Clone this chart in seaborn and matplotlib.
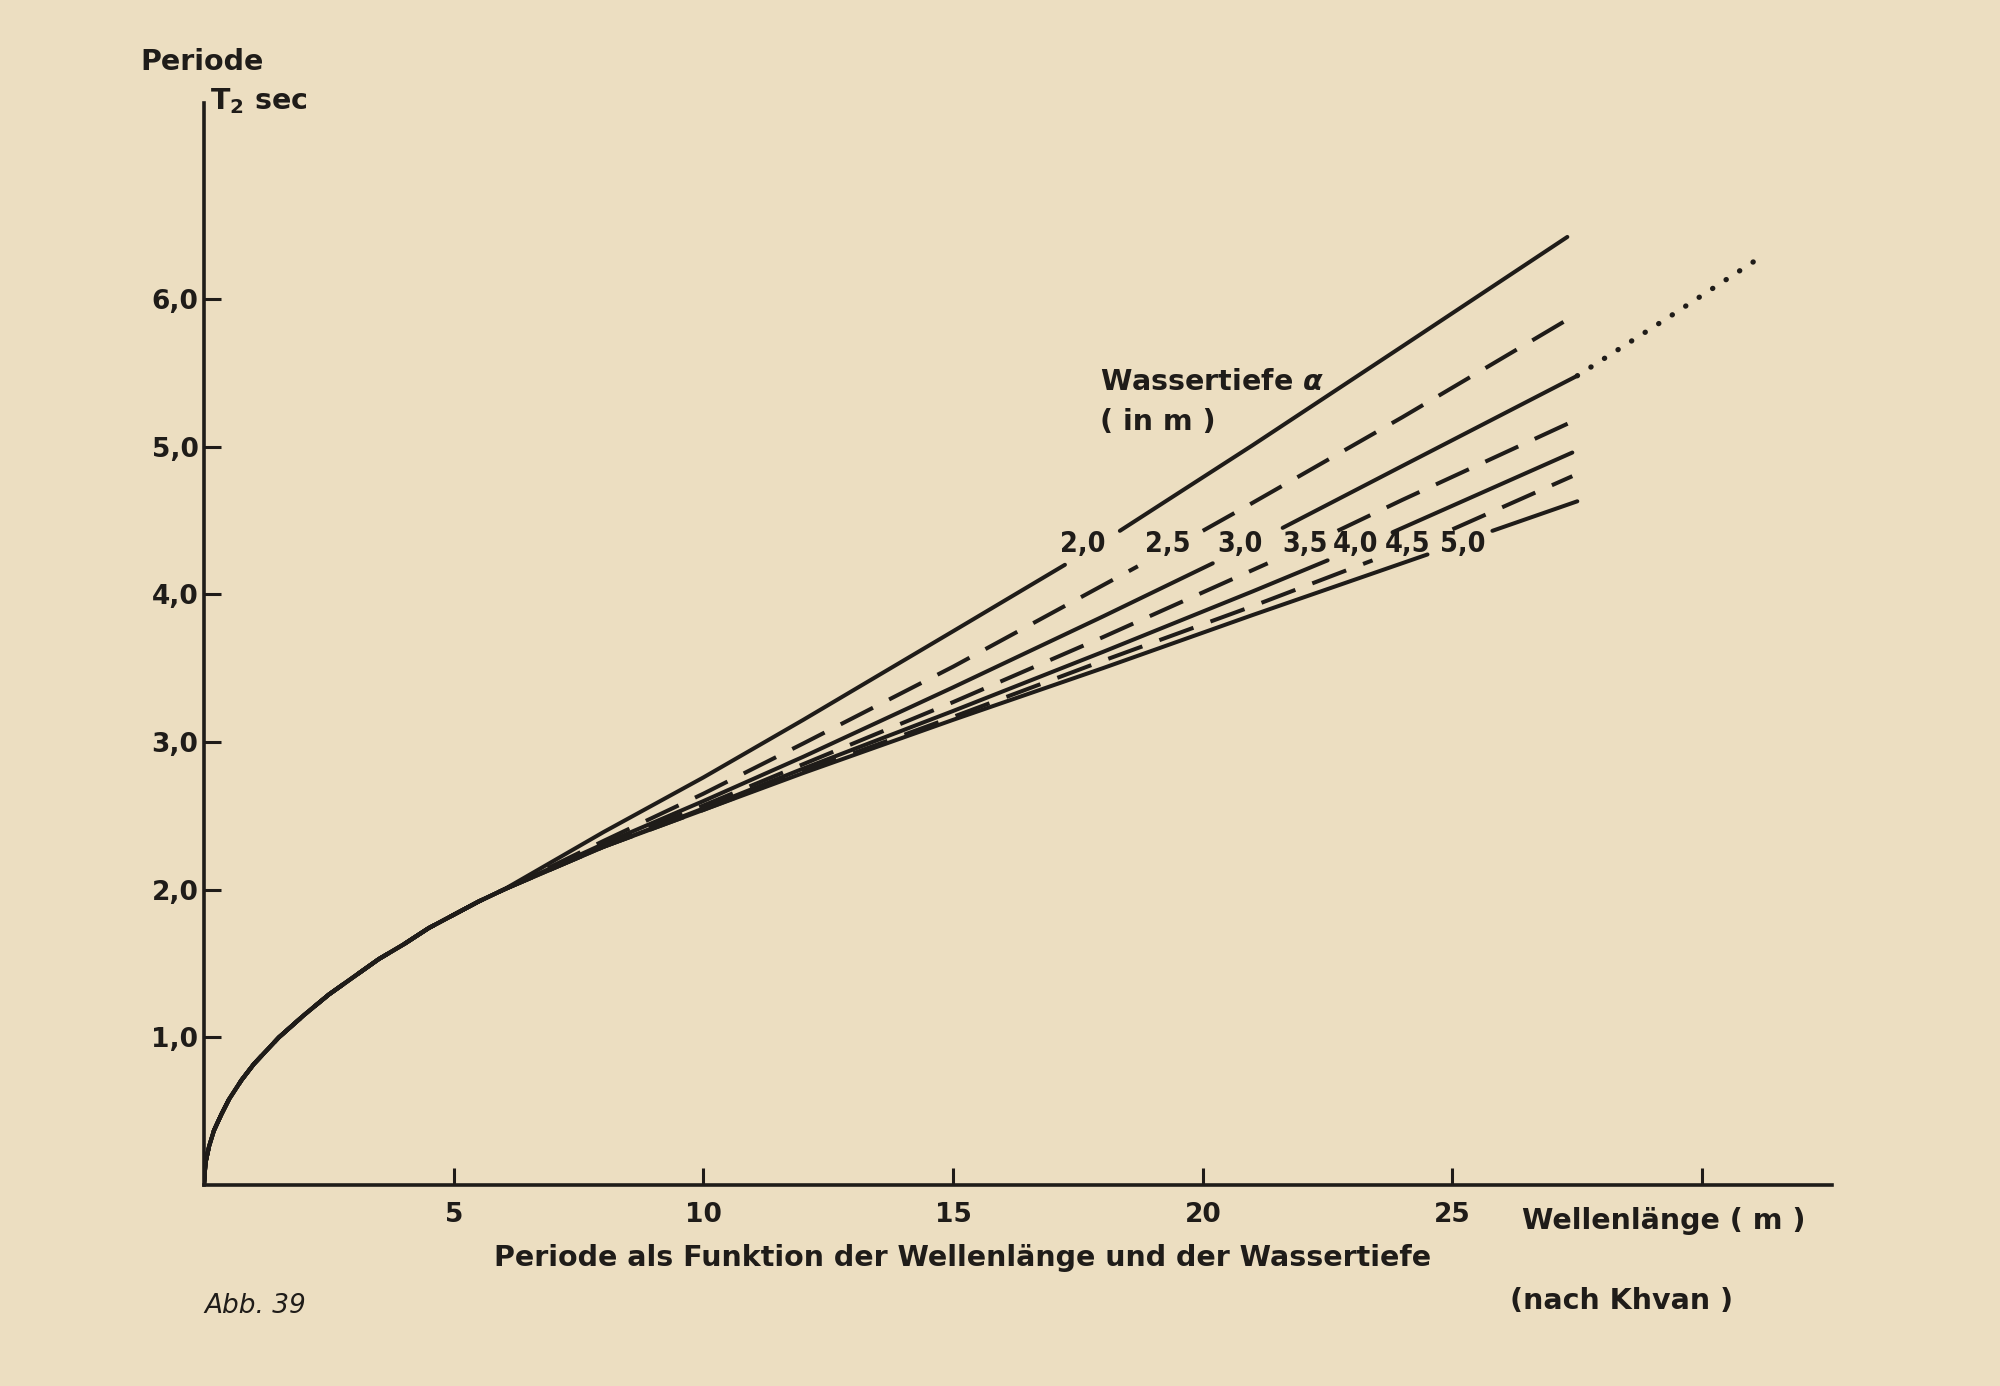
import pandas as pd
import numpy as np
import matplotlib
matplotlib.use("Agg")
import matplotlib.pyplot as plt
import seaborn as sns

# gemeinsamer Anfang aller Kurven (Wellenlänge m, Periode sec)
wl_gemeinsam = [0, 0.03, 0.1, 0.2, 0.35, 0.5, 0.75, 1.0, 1.5, 2.0, 2.5, 3.0,
                3.5, 4.0, 4.5, 5.0, 5.5, 6.0]
T_gemeinsam = [0, 0.15, 0.26, 0.37, 0.48, 0.58, 0.71, 0.82, 1.00, 1.15, 1.29,
               1.41, 1.53, 1.63, 1.74, 1.83, 1.92, 2.00]

# Wassertiefe 2,0 m (unterbrochen am Beschriftungsfeld)
wl_20_a = [8, 10, 12, 15, 17.24]
T_20_a = [2.39, 2.76, 3.15, 3.75, 4.20]
wl_20_b = [18.34, 21, 24, 27.3]
T_20_b = [4.43, 5.01, 5.68, 6.42]

# Wassertiefe 2,5 m
wl_25_a = [8, 10, 12, 15, 18.7]
T_25_a = [2.33, 2.65, 2.99, 3.51, 4.19]
wl_25_b = [20.0, 21, 24, 27.4]
T_25_b = [4.43, 4.62, 5.20, 5.88]

# Wassertiefe 3,0 m
wl_30_a = [8, 10, 12, 15, 18, 20.2]
T_30_a = [2.31, 2.60, 2.90, 3.37, 3.85, 4.21]
wl_30_b = [21.6, 24, 27.5]
T_30_b = [4.45, 4.87, 5.48]
# punktierte Verlängerung
wl_30_p = [27.5, 29.3, 31.2]
T_30_p = [5.48, 5.87, 6.29]

# Wassertiefe 3,5 m
wl_35_a = [8, 10, 12, 15, 18, 21.3]
T_35_a = [2.30, 2.57, 2.85, 3.27, 3.71, 4.21]
wl_35_b = [22.7, 24, 27.4]
T_35_b = [4.43, 4.64, 5.17]

# Wassertiefe 4,0 m
wl_40_a = [8, 10, 12, 15, 18, 21, 22.5]
T_40_a = [2.29, 2.55, 2.82, 3.21, 3.61, 4.02, 4.23]
wl_40_b = [23.8, 27.4]
T_40_b = [4.42, 4.96]

# Wassertiefe 4,5 m
wl_45_a = [8, 10, 12, 15, 18, 21, 23.4]
T_45_a = [2.29, 2.54, 2.80, 3.17, 3.55, 3.92, 4.23]
wl_45_b = [25.0, 27.4]
T_45_b = [4.44, 4.80]

# Wassertiefe 5,0 m
wl_50_a = [8, 10, 12, 15, 18, 21, 24.5]
T_50_a = [2.29, 2.54, 2.79, 3.15, 3.50, 3.86, 4.27]
wl_50_b = [25.8, 27.5]
T_50_b = [4.43, 4.63]

tiefen = ["2,0", "2,5", "3,0", "3,5", "4,0", "4,5", "5,0"]
label_wl = [17.6, 19.3, 20.75, 22.05, 23.05, 24.1, 25.2]
label_T = 4.34

x_ticks = [5, 10, 15, 20, 25, 30]
x_ticklabels = ["5", "10", "15", "20", "25", ""]
y_ticks = [1, 2, 3, 4, 5, 6]
y_ticklabels = ["1,0", "2,0", "3,0", "4,0", "5,0", "6,0"]

# Tabelle für seaborn zusammenbauen
segmente = [
    ("2,0", wl_20_a, T_20_a, wl_20_b, T_20_b),
    ("2,5", wl_25_a, T_25_a, wl_25_b, T_25_b),
    ("3,0", wl_30_a, T_30_a, wl_30_b, T_30_b),
    ("3,5", wl_35_a, T_35_a, wl_35_b, T_35_b),
    ("4,0", wl_40_a, T_40_a, wl_40_b, T_40_b),
    ("4,5", wl_45_a, T_45_a, wl_45_b, T_45_b),
    ("5,0", wl_50_a, T_50_a, wl_50_b, T_50_b),
]
zeilen = []
for tiefe, wa, ta, wb, tb in segmente:
    for w, t in zip(wl_gemeinsam + wa, T_gemeinsam + ta):
        zeilen.append({"wl": w, "T": t, "tiefe": tiefe, "teil": tiefe + "a"})
    for w, t in zip(wb, tb):
        zeilen.append({"wl": w, "T": t, "tiefe": tiefe, "teil": tiefe + "b"})
df = pd.DataFrame(zeilen)

papier = "#ecdec1"
tinte = "#1f1c19"

sns.set_style("ticks")
plt.rcParams["font.family"] = ["DejaVu Sans"]
plt.rcParams["font.weight"] = "bold"

fig = plt.figure(figsize=(20, 13.86), dpi=100, facecolor=papier)
ax = fig.add_axes([0.102, 0.145, 0.814, 0.781])
ax.set_facecolor(papier)

striche = {"2,0": "", "2,5": (9, 4.5), "3,0": "", "3,5": (9, 4.5),
           "4,0": "", "4,5": (9, 4.5), "5,0": ""}
sns.lineplot(data=df, x="wl", y="T", style="tiefe", units="teil",
             estimator=None, sort=False, dashes=striche, color=tinte,
             linewidth=2.9, legend=False, ax=ax)
sns.lineplot(x=wl_30_p, y=T_30_p, color=tinte, linewidth=3.8,
             linestyle=(0, (0.05, 3.0)), dash_capstyle="round",
             estimator=None, sort=False, ax=ax)

gr = 20.5
for tiefe, w in zip(tiefen, label_wl):
    ax.text(w, label_T, tiefe, fontsize=20.5, fontstretch="condensed",
            color=tinte, ha="center", va="center")
ax.text(17.95, 5.44, "Wassertiefe $\\alpha$", fontsize=gr, color=tinte,
        ha="left", va="center")
ax.text(17.95, 5.17, "( in m )", fontsize=gr, color=tinte, ha="left", va="center")

ax.set_xlim(0, 32.6)
ax.set_ylim(0, 7.33)
ax.set_xticks(x_ticks)
ax.set_xticklabels(x_ticklabels)
ax.set_yticks(y_ticks)
ax.set_yticklabels(y_ticklabels)
ax.tick_params(direction="in", length=12, width=2.2, color=tinte,
               labelsize=19, labelcolor=tinte)
ax.tick_params(axis="x", pad=12)
ax.tick_params(axis="y", pad=4)
for s in ["top", "right"]:
    ax.spines[s].set_visible(False)
for s in ["left", "bottom"]:
    ax.spines[s].set_linewidth(2.6)
    ax.spines[s].set_color(tinte)
ax.set_xlabel("")
ax.set_ylabel("")

fig.text(0.07, 0.955, "Periode", fontsize=gr, color=tinte, ha="left", va="center")
fig.text(0.105, 0.927, "T$_\\mathregular{2}$ sec", fontsize=gr, color=tinte,
         ha="left", va="center")
fig.text(0.761, 0.119, "Wellenlänge ( m )", fontsize=gr, color=tinte,
         ha="left", va="center")
fig.text(0.4815, 0.092, "Periode als Funktion der Wellenlänge und der Wassertiefe",
         fontsize=gr, color=tinte, ha="center", va="center")
fig.text(0.102, 0.058, "Abb. 39", fontsize=19, style="italic", weight="normal",
         color=tinte, ha="left", va="center")
fig.text(0.755, 0.061, "(nach Khvan )", fontsize=gr, color=tinte,
         ha="left", va="center")

fig.savefig("out.png", dpi=100, facecolor=papier)
